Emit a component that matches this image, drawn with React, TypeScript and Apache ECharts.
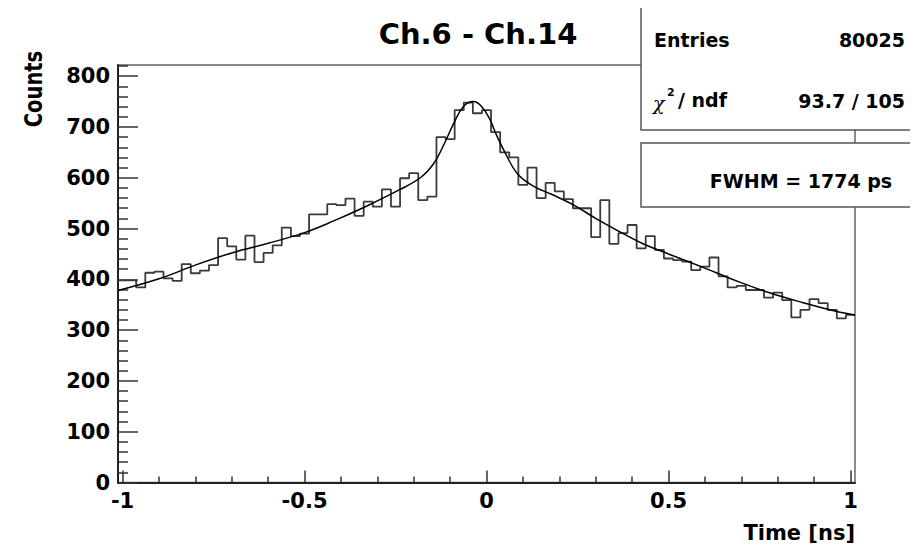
import React, { useEffect, useRef } from "react";
import * as echarts from "echarts";

// Histogram: 81 bins of 0.025 ns, first bin starting at -1.0125 ns
const binLowEdge = -1.0125;
const binWidth = 0.025;
const counts = [
  398, 398, 384, 413, 415, 402, 397, 430, 412, 417,
  428, 481, 465, 439, 486, 434, 452, 467, 502, 485,
  490, 528, 528, 548, 546, 559, 525, 553, 543, 577,
  543, 599, 609, 556, 563, 680, 676, 733, 748, 727,
  733, 690, 650, 640, 586, 620, 560, 590, 573, 558,
  540, 540, 483, 556, 470, 491, 507, 461, 485, 458,
  441, 438, 435, 418, 425, 443, 406, 384, 387, 379,
  379, 364, 374, 359, 325, 340, 361, 353, 340, 323,
  330,
];

// Fit curve
const fitX = [
  -1.0125, -0.9, -0.8, -0.7, -0.6, -0.5, -0.42, -0.33, -0.24, -0.18,
  -0.145, -0.12, -0.09, -0.064, -0.036, -0.013, 0.01, 0.025, 0.05, 0.085,
  0.13, 0.18, 0.24, 0.3, 0.36, 0.43, 0.5, 0.6, 0.69, 0.78,
  0.87, 0.96, 1.0125,
];
const fitY = [
  378, 401, 428, 452, 471, 492, 515, 544, 576, 601,
  628, 661, 707, 740, 750, 740, 714, 688, 651, 608,
  583, 567, 546, 520, 496, 470, 450, 422, 396, 373,
  354, 337, 330,
];

const xMajorTicks = [-1, -0.5, 0, 0.5, 1];
const xMinorTicks = [-0.9, -0.8, -0.7, -0.6, -0.4, -0.3, -0.2, -0.1, 0.1, 0.2, 0.3, 0.4, 0.6, 0.7, 0.8, 0.9];
const yMajorTicks = [0, 100, 200, 300, 400, 500, 600, 700, 800];
const yMinorTicks = [
  20, 40, 60, 80, 120, 140, 160, 180, 220, 240, 260, 280, 320, 340, 360, 380,
  420, 440, 460, 480, 520, 540, 560, 580, 620, 640, 660, 680, 720, 740, 760, 780, 820,
];

const titleText = "Ch.6 - Ch.14";
const xTitle = "Time [ns]";
const yTitle = "Counts";
const entriesLabel = "Entries";
const entriesValue = "80025";
const chi2Value = "93.7 / 105";
const fwhmText = "FWHM = 1774 ps";

const FONT = "DejaVu Sans";

export default function App() {
  const ref = useRef<HTMLDivElement>(null);

  useEffect(() => {
    if (!ref.current) return;
    const chart = echarts.init(ref.current, null, { renderer: "svg" });

    const histData: number[][] = counts.map((c, i) => [binLowEdge + i * binWidth, c]);
    histData.push([binLowEdge + counts.length * binWidth, counts[counts.length - 1]]);
    const fitData = fitX.map((x, i) => [x, fitY[i]]);

    const xMin = binLowEdge;
    const xMax = binLowEdge + counts.length * binWidth;
    const yMax = 822;

    const labelStyle = {
      fontFamily: FONT,
      fontWeight: "bold" as const,
      fontSize: 21,
      color: "#000",
    };
    const boldText = (text: string, x: number, y: number, align: string, size = 19) => ({
      type: "text",
      x,
      y,
      z: 110,
      style: {
        text,
        fontFamily: FONT,
        fontWeight: "bold",
        fontSize: size,
        fill: "#000",
        textAlign: align,
        textVerticalAlign: "middle",
      },
    });

    chart.setOption({
      animation: false,
      backgroundColor: "#fff",
      grid: {
        left: 118,
        right: 63,
        top: 65,
        bottom: 68.5,
        show: true,
        borderColor: "#666",
        borderWidth: 1.5,
        containLabel: false,
        outerBoundsMode: "none",
      },
      xAxis: [
        {
          type: "value",
          min: xMin,
          max: xMax,
          position: "bottom",
          axisLine: { show: true, onZero: false, lineStyle: { color: "#222", width: 2 } },
          axisTick: { show: true, inside: true, length: 12, customValues: xMajorTicks, lineStyle: { color: "#333", width: 1.5 } },
          axisLabel: { show: true, customValues: xMajorTicks, margin: 8, ...labelStyle },
          splitLine: { show: false },
        },
        {
          type: "value",
          min: xMin,
          max: xMax,
          position: "bottom",
          axisLine: { show: false, onZero: false },
          axisTick: { show: true, inside: true, length: 6, customValues: xMinorTicks, lineStyle: { color: "#333", width: 1.5 } },
          axisLabel: { show: false },
          splitLine: { show: false },
        },
      ],
      yAxis: [
        {
          type: "value",
          min: 0,
          max: yMax,
          position: "left",
          axisLine: { show: true, onZero: false, lineStyle: { color: "#222", width: 2 } },
          axisTick: { show: true, inside: true, length: 20, customValues: yMajorTicks, lineStyle: { color: "#333", width: 1.5 } },
          axisLabel: { show: true, customValues: yMajorTicks, margin: 8, ...labelStyle },
          splitLine: { show: false },
        },
        {
          type: "value",
          min: 0,
          max: yMax,
          position: "left",
          axisLine: { show: false, onZero: false },
          axisTick: { show: true, inside: true, length: 10, customValues: yMinorTicks, lineStyle: { color: "#333", width: 1.5 } },
          axisLabel: { show: false },
          splitLine: { show: false },
        },
      ],
      series: [
        {
          name: "Histogram",
          type: "line",
          step: "end",
          xAxisIndex: 0,
          yAxisIndex: 0,
          data: histData,
          showSymbol: false,
          lineStyle: { color: "#3a3a3a", width: 1.8 },
          z: 2,
        },
        {
          name: "Fit",
          type: "line",
          smooth: 0.4,
          xAxisIndex: 0,
          yAxisIndex: 0,
          data: fitData,
          showSymbol: false,
          lineStyle: { color: "#000", width: 1.5 },
          z: 3,
        },
      ],
      graphic: [
        {
          type: "text",
          x: 478,
          y: 34,
          style: {
            text: titleText,
            fontFamily: FONT,
            fontWeight: "bold",
            fontSize: 29,
            fill: "#000",
            textAlign: "center",
            textVerticalAlign: "middle",
          },
        },
        {
          type: "text",
          x: 33,
          y: 89,
          rotation: Math.PI / 2,
          scaleY: 1.3,
          style: {
            text: yTitle,
            fontFamily: FONT,
            fontWeight: "bold",
            fontSize: 19.5,
            fill: "#000",
            textAlign: "center",
            textVerticalAlign: "middle",
          },
        },
        {
          type: "text",
          x: 855,
          y: 533,
          style: {
            text: xTitle,
            fontFamily: FONT,
            fontWeight: "bold",
            fontSize: 21,
            fill: "#000",
            textAlign: "right",
            textVerticalAlign: "middle",
          },
        },
        {
          type: "rect",
          z: 100,
          shape: { x: 641, y: 7, width: 300, height: 123 },
          style: { fill: "#fff", stroke: "#555", lineWidth: 1.5 },
        },
        boldText(entriesLabel, 654, 40, "left"),
        boldText(entriesValue, 905, 40, "right"),
        {
          type: "text",
          x: 653,
          y: 103,
          z: 110,
          style: {
            text: "χ",
            fontFamily: "DejaVu Serif",
            fontStyle: "italic",
            fontSize: 19,
            fill: "#000",
            textAlign: "left",
            textVerticalAlign: "middle",
          },
        },
        {
          type: "text",
          x: 667,
          y: 92,
          z: 110,
          style: {
            text: "2",
            fontFamily: FONT,
            fontWeight: "bold",
            fontSize: 11,
            fill: "#000",
            textAlign: "left",
            textVerticalAlign: "middle",
          },
        },
        boldText("/ ndf", 678, 100, "left"),
        boldText(chi2Value, 905, 101, "right"),
        {
          type: "rect",
          z: 100,
          shape: { x: 641, y: 143, width: 300, height: 64 },
          style: { fill: "#fff", stroke: "#555", lineWidth: 1.5 },
        },
        boldText(fwhmText, 801, 181, "center"),
      ],
    });

    return () => chart.dispose();
  }, []);

  return <div ref={ref} style={{ width: 918, height: 551, margin: -8 }} />;
}
